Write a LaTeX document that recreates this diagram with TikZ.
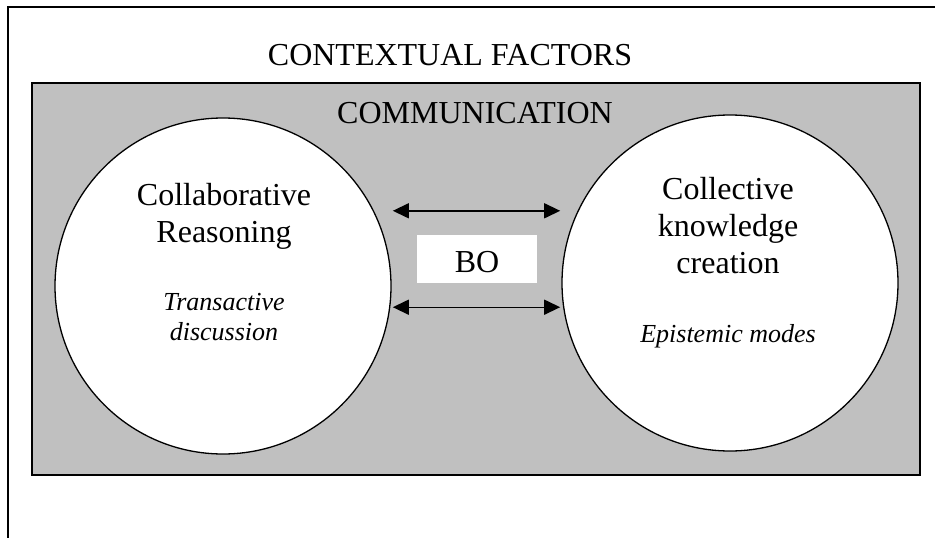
\documentclass[tikz,border=0pt]{standalone}
\usepackage{fontspec}
\setmainfont{Liberation Serif}
\definecolor{CommGray}{RGB}{192,192,192}
\usepackage{tikz}
\usetikzlibrary{arrows.meta,positioning,calc}
\newcommand{\headfont}{\fontsize{32}{37}\selectfont}
\newcommand{\notefont}{\fontsize{26}{30}\selectfont\itshape}

\begin{document}
\begin{tikzpicture}[x=1pt,y=1pt,
  bubble/.style={circle,draw,line width=1.3pt,fill=white,minimum size=336pt,inner sep=0pt},
  link/.style={{Triangle[length=16pt,width=15pt]}-{Triangle[length=16pt,width=15pt]},line width=1.4pt}]
  \useasboundingbox (0,0) rectangle (935,-538);
  \draw[line width=1.2pt] (935,-7) -- (8,-7) -- (8,-538);
  \filldraw[fill=CommGray,line width=1.3pt] (32,-83) rectangle (920,-475);
  \node[anchor=base,font=\headfont] (context) at (450,-65) {CONTEXTUAL FACTORS};
  \node[anchor=base,font=\headfont] (comm) at (475,-123) {COMMUNICATION};
  \node[bubble] (reason) at (223,-286) {};
  \node[bubble] (create) at (730,-283) {};
  \node[anchor=base,align=center,font=\headfont] (reasonlbl) at (224,-242) {Collaborative\\Reasoning};
  \node[anchor=base,align=center,font=\notefont] (reasonnote) at (224,-340) {Transactive\\discussion};
  \node[anchor=base,align=center,font=\headfont] (createlbl) at (728,-273) {Collective\\knowledge\\creation};
  \node[anchor=base,font=\notefont] (createnote) at (728,-342) {Epistemic modes};
  \node[fill=white,inner sep=0pt,minimum width=120pt,minimum height=48pt,text height=28pt,font=\headfont] (bo) at (477,-259) {BO};
  \coordinate (tl) at ([shift={(-24,24)}]bo.north west);
  \coordinate (tr) at ([shift={(23,24)}]bo.north east);
  \coordinate (bl) at ([shift={(-24,-24)}]bo.south west);
  \coordinate (br) at ([shift={(23,-24)}]bo.south east);
  \draw[link] (tl) -- (tr);
  \draw[link] (bl) -- (br);
\end{tikzpicture}
\end{document}
